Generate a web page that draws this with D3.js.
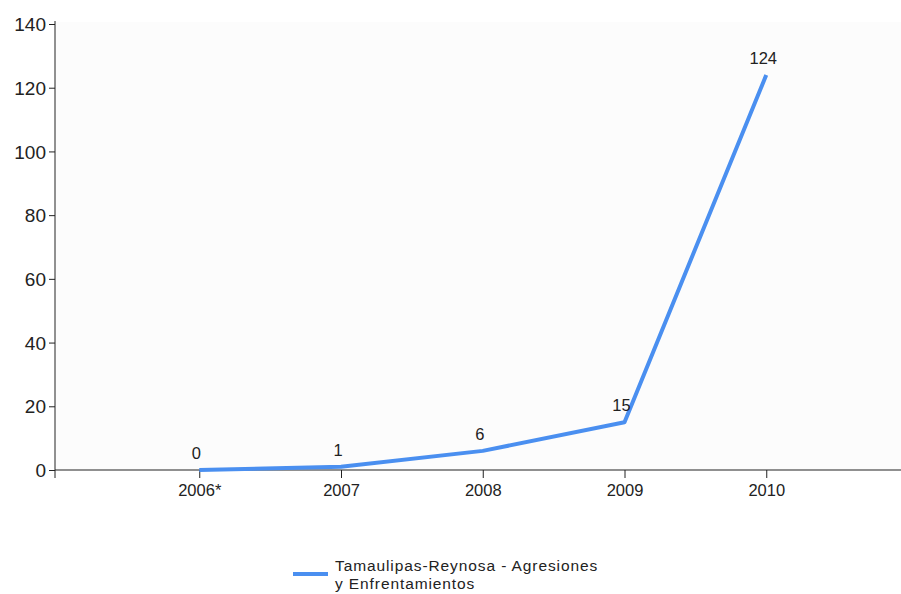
<!DOCTYPE html>
<html><head><meta charset="utf-8">
<script src="https://cdn.jsdelivr.net/npm/d3@7"></script>
<style>body{margin:0;background:#fff}svg text{font-family:"Liberation Sans",Arial,sans-serif}</style>
</head><body>
<svg id="c" width="901" height="594"></svg>
<script>
const years = [2006, 2007, 2008, 2009, 2010];
const yearLabels = ["2006*", "2007", "2008", "2009", "2010"];
const values = [0, 1, 6, 15, 124];
const yTicks = [0, 20, 40, 60, 80, 100, 120, 140];
const seriesName = ["Tamaulipas-Reynosa - Agresiones", "y Enfrentamientos"];

const svg = d3.select("#c");
const x = d3.scaleLinear().domain([2005, 2011]).range([57.5, 908]);
const y = d3.scaleLinear().domain([0, 140]).range([470, 24]);

svg.append("rect").attr("x", 56).attr("y", 22).attr("width", 845).attr("height", 448).attr("fill", "#fcfcfc");

const ya = svg.append("g").attr("transform", "translate(55,0)")
  .call(d3.axisLeft(y).tickValues(yTicks).tickSize(6).tickPadding(3).tickFormat(d3.format("d")));
ya.select(".domain").attr("d", "M0,21V478").attr("stroke", "#222");
ya.selectAll("text").attr("font-size", 19).attr("fill", "#222").attr("dy", "0.35em");
ya.selectAll(".tick line").attr("stroke", "#222");

const xa = svg.append("g").attr("transform", "translate(0,470)")
  .call(d3.axisBottom(x).tickValues(years).tickSize(8).tickPadding(6).tickFormat((d, i) => yearLabels[i]));
xa.select(".domain").attr("d", "M55,0H901").attr("stroke", "#222");
xa.selectAll("text").attr("font-size", 16.5).attr("fill", "#222");
xa.selectAll(".tick line").attr("stroke", "#222");

const line = d3.line().x((d, i) => x(years[i])).y(d => y(d));
svg.append("path").datum(values).attr("d", line).attr("fill", "none")
  .attr("stroke", "#4a8ff0").attr("stroke-width", 4).attr("stroke-linejoin", "round");

svg.append("g").selectAll("text").data(values).join("text")
  .attr("x", (d, i) => x(years[i]) - 3).attr("y", d => y(d) - 11)
  .attr("text-anchor", "middle").attr("font-size", 16.5).attr("fill", "#222").text(d => d);

svg.append("line").attr("x1", 293).attr("x2", 328).attr("y1", 574).attr("y2", 574)
  .attr("stroke", "#4a8ff0").attr("stroke-width", 4);
svg.append("text").attr("x", 335).attr("y", 571).attr("font-size", 15.5).attr("letter-spacing", 0.9).attr("fill", "#222")
  .selectAll("tspan").data(seriesName).join("tspan").attr("x", 335).attr("dy", (d, i) => i ? 18 : 0).text(d => d);
</script>
</body></html>
